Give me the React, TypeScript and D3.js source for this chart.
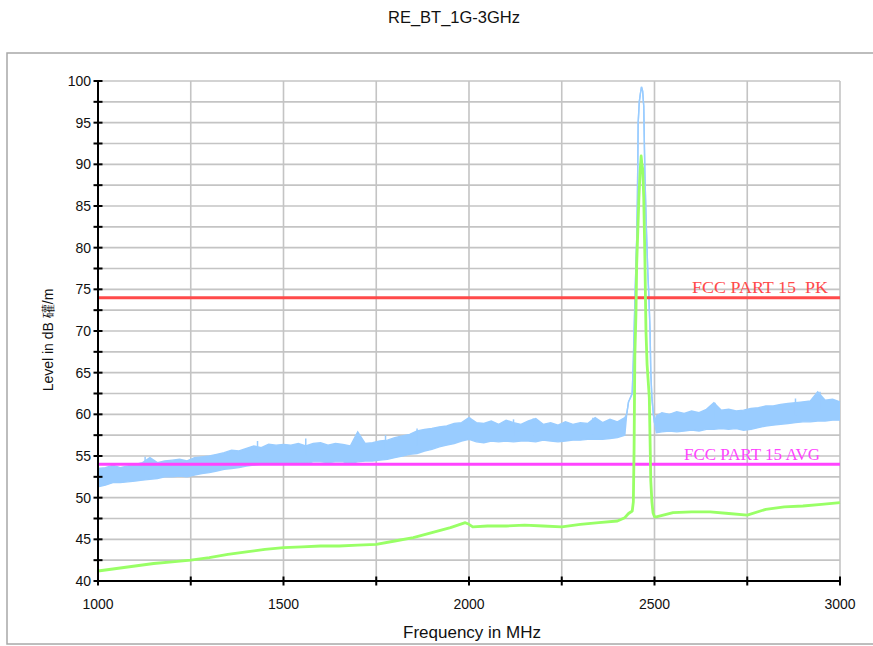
import React from "react";
import * as d3 from "d3";

// ---- data ----
const yTicks = [40, 45, 50, 55, 60, 65, 70, 75, 80, 85, 90, 95, 100];
const xTicks = [1000, 1500, 2000, 2500, 3000];

// Peak detector trace (blue): low/high envelope before the carrier
const pkFreqA = d3.range(1000, 2421, 20);
const pkLowA = [51.3,51.5,51.8,51.8,51.9,52.0,52.1,52.2,52.3,52.5,
  52.5,52.6,52.5,52.7,52.9,53.0,53.2,53.4,53.5,53.6,
  53.8,53.9,54.0,54.0,54.1,54.1,54.0,54.2,54.1,54.3,
  54.3,54.2,54.3,54.3,54.1,54.3,54.4,54.4,54.5,54.6,
  54.8,55.0,55.2,55.3,55.6,55.8,56.1,56.3,56.5,56.8,
  57.0,56.7,56.6,56.8,56.7,56.8,56.7,56.8,56.8,56.7,
  56.9,56.8,56.7,56.8,56.9,56.9,57.0,57.0,57.0,57.1,
  57.2,57.5];
const pkHighA = [53.5,53.6,53.9,53.6,53.8,54.0,54.2,54.8,54.2,54.4,
  54.5,54.6,54.4,54.8,54.9,55.0,55.2,55.4,55.7,55.6,
  55.9,56.2,56.0,56.4,56.3,56.4,56.3,56.5,56.2,56.5,
  56.6,56.3,56.5,56.4,56.2,57.9,56.5,56.6,56.8,56.9,
  57.2,57.4,57.6,58.0,58.2,58.3,58.5,58.6,58.9,59.0,
  59.6,59.0,58.9,59.2,58.8,59.3,59.0,58.8,59.2,59.5,
  58.8,59.0,58.7,59.1,58.8,59.0,58.9,59.6,59.0,59.4,
  59.1,59.6];
// carrier peak (blue)
const pkFreqB = [2425,2430,2435,2440,2443,2447,2450,2452,2454,2456,
  2459,2462,2465,2468,2471,2474,2477,2479,2482,2485,
  2488,2490,2493,2497,2500];
const pkValB = [60.0,61.5,62.0,62.5,66.5,73.3,78.0,81.0,86.0,95.0,
  97.5,98.5,99.3,98.8,97.0,89.0,84.0,81.0,77.0,74.0,
  70.0,65.0,62.0,60.0,59.0];
// after the carrier
const pkFreqC = [2505, ...d3.range(2520, 3001, 20)];
const pkLowC = [57.8,57.9,58.0,57.9,58.0,58.1,58.0,58.2,58.2,58.3,
  58.2,58.3,58.1,58.2,58.4,58.6,58.7,58.8,58.9,59.0,
  59.1,59.1,59.2,59.2,59.3,59.3];
const pkHighC = [59.8,60.2,60.0,60.3,60.1,60.4,60.2,60.6,61.4,60.5,
  60.6,60.4,60.5,60.7,60.8,61.0,61.0,61.2,61.3,61.4,
  61.5,61.6,62.7,61.7,61.8,61.5];
// isolated spikes on the blue trace
const pkSpikeFreq = [1127,1430,1560,1775,1860,2003,2120,2173,2334,2663,2880,2946];
const pkSpikeVal = [54.9,56.8,57.1,57.5,58.3,59.6,59.4,59.5,59.6,61.4,61.9,62.7];

// Average detector trace (green)
const avFreq = [1000,1050,1100,1150,1200,1250,1300,1350,1400,1450,
  1500,1550,1600,1650,1700,1750,1800,1850,1900,1950,
  1990,2000,2010,2050,2100,2150,2200,2250,2300,2350,
  2400,2420,2430,2440,2443,2445,2447,2450,2452,2455,
  2458,2461,2464,2466,2468,2471,2474,2477,2480,2483,
  2486,2488,2490,2493,2496,2500,2505,2550,2600,2650,
  2700,2750,2800,2850,2900,2950,3000];
const avVal = [41.2,41.5,41.8,42.1,42.3,42.5,42.8,43.2,43.5,43.8,
  44.0,44.1,44.2,44.2,44.3,44.4,44.8,45.2,45.8,46.4,
  47.0,46.8,46.5,46.6,46.6,46.7,46.6,46.5,46.8,47.0,
  47.2,47.6,48.1,48.4,49.5,56,67,72,78,82,
  86,89,91,90,89.5,86,79,70,66,64,
  62,57,52,49.5,48.2,47.7,47.7,48.2,48.3,48.3,
  48.1,47.9,48.6,48.9,49.0,49.2,49.4];

const limitNames = ["FCC PART 15  PK", "FCC PART 15 AVG"];
const limitValues = [74, 54];
const limitColors = ["#ff4a4a", "#ff44ff"];

export default function App() {
  const W = 873, H = 646;
  const x = d3.scaleLinear().domain([1000, 3000]).range([98, 840]);
  const y = d3.scaleLinear().domain([40, 100]).range([581, 81]);

  type P = { f: number; lo: number; hi: number };
  const pk: P[] = [
    ...pkFreqA.map((f, i) => ({ f, lo: pkLowA[i], hi: pkHighA[i] })),
    ...pkFreqB.map((f, i) => ({ f, lo: pkValB[i], hi: pkValB[i] })),
    ...pkFreqC.map((f, i) => ({ f, lo: pkLowC[i], hi: pkHighC[i] })),
  ];
  const area = d3.area<P>().x(d => x(d.f)).y0(d => y(d.lo)).y1(d => y(d.hi));
  const hiLine = d3.line<P>().x(d => x(d.f)).y(d => y(d.hi));
  const loLine = d3.line<P>().x(d => x(d.f)).y(d => y(d.lo));
  const avLine = d3.line<number>().x((_, i) => x(avFreq[i])).y(d => y(d));

  const gridY = d3.range(40, 100.01, 2.5);
  const gridX = d3.range(1000, 3000.01, 250);
  const blue = "#99ccff";
  const green = "#99ff66";
  const font = "Arial, 'Liberation Sans', sans-serif";

  return (
    <svg width={W} height={H} style={{ position: "absolute", left: 0, top: 0, background: "#fff" }}>
      <text x={454} y={23} textAnchor="middle" fontFamily={font} fontSize={16.5} fill="#111">RE_BT_1G-3GHz</text>
      <rect x={7} y={53} width={900} height={591} fill="none" stroke="#a8a8a8" strokeWidth={1.5} />
      {/* grid */}
      {gridY.map(v => (
        <line key={"gy" + v} x1={x(1000)} x2={x(3000)} y1={y(v)} y2={y(v)} stroke="#c4c4c4" strokeWidth={1.6} />
      ))}
      {gridX.map(v => (
        <line key={"gx" + v} x1={x(v)} x2={x(v)} y1={y(40)} y2={y(100)} stroke="#c4c4c4" strokeWidth={1.6} />
      ))}
      {/* blue peak trace */}
      <path d={area(pk) || ""} fill={blue} stroke="none" />
      <path d={hiLine(pk) || ""} fill="none" stroke={blue} strokeWidth={1.4} />
      <path d={loLine(pk) || ""} fill="none" stroke={blue} strokeWidth={1.4} />
      {pkSpikeFreq.map((f, i) => (
        <line key={"sp" + i} x1={x(f)} x2={x(f)} y1={y(pkSpikeVal[i] - 2)} y2={y(pkSpikeVal[i])} stroke={blue} strokeWidth={1.5} />
      ))}
      {/* limit lines */}
      {limitValues.map((v, i) => (
        <line key={"lim" + i} x1={x(1000)} x2={x(3000)} y1={y(v)} y2={y(v)} stroke={limitColors[i]} strokeWidth={3} />
      ))}
      {/* green average trace */}
      <path d={avLine(avVal) || ""} fill="none" stroke={green} strokeWidth={2.8} strokeLinejoin="round" />
      {/* limit labels */}
      <text x={692} y={293} fontFamily="'Liberation Serif', 'DejaVu Serif', serif" fontSize={16} fill={limitColors[0]} textLength={136} lengthAdjust="spacingAndGlyphs" style={{ whiteSpace: "pre" }}>{limitNames[0]}</text>
      <text x={684} y={460} fontFamily="'Liberation Serif', 'DejaVu Serif', serif" fontSize={16} fill={limitColors[1]} textLength={136} lengthAdjust="spacingAndGlyphs" style={{ whiteSpace: "pre" }}>{limitNames[1]}</text>
      {/* axes */}
      <line x1={x(1000)} x2={x(1000)} y1={y(40)} y2={y(100)} stroke="#000" strokeWidth={2} />
      <line x1={x(1000)} x2={x(3000)} y1={y(40)} y2={y(40)} stroke="#000" strokeWidth={2} />
      {gridY.map(v => (
        <line key={"ty" + v} x1={x(1000) - 4.5} x2={x(1000) + 4.5} y1={y(v)} y2={y(v)} stroke="#000" strokeWidth={2} />
      ))}
      {gridX.map(v => (
        <line key={"tx" + v} x1={x(v)} x2={x(v)} y1={y(40) - 4.5} y2={y(40) + 4.5} stroke="#000" strokeWidth={2} />
      ))}
      {yTicks.map(v => (
        <text key={"yl" + v} x={91} y={y(v) + 5} textAnchor="end" fontFamily={font} fontSize={14} fill="#111">{v}</text>
      ))}
      {xTicks.map(v => (
        <text key={"xl" + v} x={x(v)} y={609} textAnchor="middle" fontFamily={font} fontSize={14} fill="#111">{v}</text>
      ))}
      <text x={472} y={638} textAnchor="middle" fontFamily={font} fontSize={17} fill="#111">Frequency in MHz</text>
      <text transform="translate(53,340) rotate(-90)" textAnchor="middle" fontFamily={font} fontSize={14} fill="#111">Level in dB 礶/m</text>
    </svg>
  );
}
